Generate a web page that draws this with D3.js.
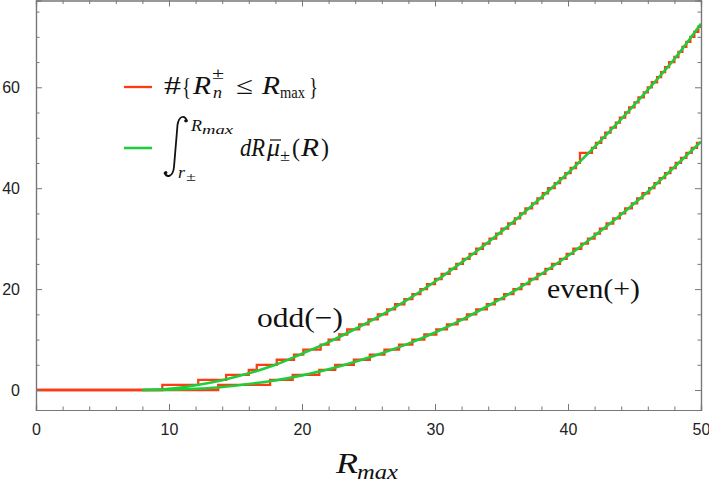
<!DOCTYPE html>
<html><head><meta charset="utf-8">
<script src="https://cdn.jsdelivr.net/npm/d3@7"></script>
<style>
html,body{margin:0;padding:0;background:#fff;}
svg{display:block;}
</style></head>
<body>
<svg id="chart" width="709" height="486"></svg>
<script>
// ---- data ----
const oddSteps = [9.5,12.2,14.3,16.0,16.6,18.1,19.4,20.1,21.4,22.0,22.8,23.4,24.3,25.0,25.7,26.4,27.0,27.7,28.3,28.9,29.4,30.0,30.5,31.1,31.6,32.1,32.6,33.1,33.6,34.1,34.6,35.0,35.5,36.0,36.4,36.8,37.3,37.7,38.1,38.5,39.0,39.4,39.8,40.2,40.6,40.9,40.9,41.8,42.1,42.5,42.8,43.2,43.6,43.9,44.3,44.6,45.0,45.3,45.7,46.0,46.3,46.7,47.0,47.3,47.6,48.0,48.3,48.6,48.9,49.2,49.5,49.8];
const evenSteps = [13.7,17.6,19.3,21.3,22.5,23.9,25.1,26.2,27.3,28.3,29.2,30.1,30.9,31.7,32.4,33.1,33.9,34.5,35.2,35.9,36.5,37.1,37.7,38.3,38.8,39.4,39.9,40.4,41.0,41.5,42.0,42.4,42.9,43.4,43.9,44.3,44.8,45.2,45.6,46.1,46.5,46.9,47.3,47.7,48.1,48.5,48.9,49.3,49.7];
const smoothX    = [8,10,12,14,16,18,20,22,24,26,28,30,32,34,36,38,40,42,44,46,48,50];
const oddSmooth  = [0,0.25,0.95,1.95,3.3,5.0,7.2,9.5,12.1,14.9,18.0,21.5,25.3,29.3,33.6,38.2,43.0,48.2,53.7,59.5,65.6,72.6];
const evenSmooth = [0,0.05,0.24,0.6,1.2,1.9,2.9,4.1,5.6,7.3,9.2,11.4,13.9,16.7,19.7,23.0,26.6,30.6,34.8,39.3,44.2,49.2];
const xMajorTicks = [0,10,20,30,40,50];
const yMajorTicks = [0,20,40,60];
const xMinorTicks = [2,4,6,8,12,14,16,18,22,24,26,28,32,34,36,38,42,44,46,48];
const yMinorTicks = [5,10,15,25,30,35,45,50,55,65,70,75];
const xMax = 50;

// ---- layout ----
const L = 36, R = 701, T = 0.5, B = 410;
const RED = "#ff3b12", GREEN = "#1fcc3a", AX = "#777", LAB = "#222", INK = "#111";
const x = d3.scaleLinear().domain([0, 50]).range([L, R]);
const y = d3.scaleLinear().domain([-3.96, 77.2]).range([B, T]);

const svg = d3.select("#chart");
svg.append("defs").append("clipPath").attr("id","clip")
  .append("rect").attr("x",L).attr("y",T).attr("width",R-L).attr("height",B-T);

const plot = svg.append("g").attr("clip-path","url(#clip)");

function stairs(steps){
  const pts = [[0,0]];
  steps.forEach((s,i)=>pts.push([s,i+1]));
  pts.push([xMax, steps.length]);
  return pts;
}
const stepLine = d3.line().x(d=>x(d[0])).y(d=>y(d[1])).curve(d3.curveStepAfter);
const smoothLine = d3.line().x(d=>x(d[0])).y(d=>y(d[1])).curve(d3.curveMonotoneX);

[oddSteps, evenSteps].forEach(s=>{
  plot.append("path").attr("d", stepLine(stairs(s)))
    .attr("fill","none").attr("stroke",RED).attr("stroke-width",2.3).attr("stroke-linejoin","miter");
});
[oddSmooth, evenSmooth].forEach(v=>{
  plot.append("path").attr("d", smoothLine(smoothX.map((xx,i)=>[xx,v[i]])))
    .attr("fill","none").attr("stroke",GREEN).attr("stroke-width",2.6);
});

// ---- frame & axes ----
const axBottom = d3.axisBottom(x).tickValues(xMajorTicks).tickSize(-6).tickPadding(14).tickFormat(d3.format("d"));
const axBottomMinor = d3.axisBottom(x).tickValues(xMinorTicks).tickSize(-3.5).tickFormat("");
const axTop = d3.axisTop(x).tickValues(xMajorTicks).tickSize(-6).tickFormat("");
const axTopMinor = d3.axisTop(x).tickValues(xMinorTicks).tickSize(-3.5).tickFormat("");
const axLeft = d3.axisLeft(y).tickValues(yMajorTicks).tickSize(-6).tickPadding(16).tickFormat(d3.format("d"));
const axLeftMinor = d3.axisLeft(y).tickValues(yMinorTicks).tickSize(-3.5).tickFormat("");
const axRight = d3.axisRight(y).tickValues(yMajorTicks).tickSize(-6).tickFormat("");
const axRightMinor = d3.axisRight(y).tickValues(yMinorTicks).tickSize(-3.5).tickFormat("");

function styleAxis(g){
  g.selectAll("path.domain").attr("stroke",AX).attr("stroke-width",1.2);
  g.selectAll("line").attr("stroke",AX).attr("stroke-width",1);
  g.selectAll("text").attr("fill",LAB).attr("font-family","Liberation Sans, Arial, sans-serif").attr("font-size",16);
}
svg.append("g").attr("transform",`translate(0,${B})`).call(axBottom).call(styleAxis);
svg.append("g").attr("transform",`translate(0,${B})`).call(axBottomMinor).call(styleAxis);
svg.append("g").attr("transform",`translate(0,${T})`).call(axTop).call(styleAxis);
svg.append("g").attr("transform",`translate(0,${T})`).call(axTopMinor).call(styleAxis);
svg.append("g").attr("transform",`translate(${L},0)`).call(axLeft).call(styleAxis);
svg.append("g").attr("transform",`translate(${L},0)`).call(axLeftMinor).call(styleAxis);
svg.append("g").attr("transform",`translate(${R},0)`).call(axRight).call(styleAxis);
svg.append("g").attr("transform",`translate(${R},0)`).call(axRightMinor).call(styleAxis);

// ---- text helpers ----
const SERIF = "Liberation Serif, Times New Roman, serif";
function txt(g, s, px, py, size, opts={}){
  const t = g.append("text").attr("x",px).attr("y",py).attr("font-family",SERIF)
    .attr("font-size",size).attr("fill",INK).text(s);
  if (opts.italic) t.attr("font-style","italic");
  if (opts.len) t.attr("textLength",opts.len).attr("lengthAdjust","spacingAndGlyphs");
  return t;
}

// x-axis label
txt(svg, "R", 336, 473, 30, {italic:true, len:22});
txt(svg, "max", 357, 479, 22, {italic:true, len:41});

// annotations
txt(svg, "odd(−)", 257, 327, 28, {len:86});
txt(svg, "even(+)", 547, 298, 28, {len:93});

// legend
const lg = svg.append("g");
lg.append("line").attr("x1",124).attr("x2",152).attr("y1",87).attr("y2",87).attr("stroke",RED).attr("stroke-width",2.3);
lg.append("line").attr("x1",124).attr("x2",152).attr("y1",148).attr("y2",148).attr("stroke",GREEN).attr("stroke-width",2.6);

txt(lg, "#", 164, 94, 25, {len:17});
txt(lg, "{", 182, 95, 25, {len:9});
txt(lg, "R", 193, 94, 25, {italic:true, len:18});
txt(lg, "±", 212, 79, 16, {len:12});
txt(lg, "n", 213, 98, 16, {italic:true, len:9});
txt(lg, "≤", 236, 94, 25, {len:17});
txt(lg, "R", 262, 94, 25, {italic:true, len:18});
txt(lg, "max", 280, 98, 17, {len:25});
txt(lg, "}", 309, 95, 25, {len:9});

// integral sign
lg.append("path")
  .attr("d","M187,121 C185,115 179,115 177.5,125 L174,167 C173,177 167,178 164.5,173")
  .attr("fill","none").attr("stroke",INK).attr("stroke-width",1.8).attr("stroke-linecap","round");
lg.append("circle").attr("cx",185.8).attr("cy",120.8).attr("r",1.6).attr("fill",INK);
lg.append("circle").attr("cx",165.8).attr("cy",172.6).attr("r",1.6).attr("fill",INK);

txt(lg, "R", 191, 131, 17, {italic:true, len:11});
txt(lg, "max", 202, 134, 13, {italic:true, len:31});
txt(lg, "r", 178, 178, 17, {italic:true, len:7});
txt(lg, "±", 186, 181, 13, {len:10});
txt(lg, "dR", 240, 156, 25, {italic:true, len:25});
txt(lg, "μ", 267, 156, 25, {italic:true, len:13});
lg.append("line").attr("x1",270).attr("x2",281).attr("y1",140).attr("y2",140).attr("stroke",INK).attr("stroke-width",1.2);
txt(lg, "±", 280, 161, 16, {len:10});
txt(lg, "(", 292, 156, 25, {len:8});
txt(lg, "R", 301, 156, 25, {italic:true, len:18});
txt(lg, ")", 321, 156, 25, {len:8});
</script>
</body></html>
